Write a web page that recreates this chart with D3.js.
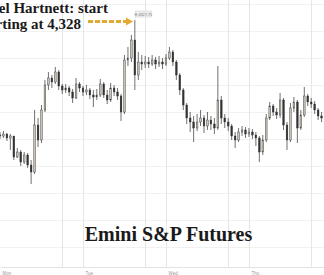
<!DOCTYPE html>
<html>
<head>
<meta charset="utf-8">
<script src="https://cdn.jsdelivr.net/npm/d3@7"></script>
<style>
  body { margin: 0; background: #fff; }
  svg { display: block; }
</style>
</head>
<body>
<script>
// hourly candles, Mon 00:00 onward
var first_open = 4213;
var closes = [4212,4214,4210,4212,4191,4196,4186,4193,4183,4176,
              4223,4208,4238,4263,4270,4266,4276,4262,4258,4260,
              4256,4250,4264,4260,4256,4258,4253,4251,4253,4264,
              4253,4248,4260,4256,4252,4236,4288,4290,4308,4273,
              4286,4284,4286,4284,4288,4284,4286,4284,4290,4296,
              4286,4273,4258,4243,4230,4226,4220,4226,4230,4222,
              4228,4224,4220,4248,4230,4226,4222,4212,4208,4216,
              4218,4214,4216,4213,4210,4196,4208,4230,4242,4236,
              4233,4248,4223,4208,4240,4246,4220,4233,4252,4246,
              4244,4238,4232,4230];
var highs = [4216,4217,4215,4214,4212,4200,4198,4196,4195,4188,
             4238,4230,4243,4268,4276,4273,4281,4278,4264,4264,
             4262,4259,4270,4266,4262,4263,4260,4258,4259,4269,
             4266,4258,4265,4263,4260,4254,4293,4301,4313,4328,
             4296,4293,4292,4291,4293,4291,4292,4290,4294,4301,
             4298,4288,4275,4260,4245,4236,4232,4234,4238,4233,
             4236,4232,4230,4282,4252,4234,4230,4224,4216,4220,
             4222,4221,4220,4219,4216,4212,4213,4234,4246,4244,
             4240,4255,4250,4226,4245,4251,4248,4238,4261,4254,
             4250,4247,4240,4236];
var lows = [4209,4210,4207,4198,4188,4190,4182,4184,4180,4164,
            4174,4201,4205,4236,4258,4260,4264,4258,4254,4255,
            4252,4245,4249,4256,4252,4253,4249,4241,4248,4251,
            4250,4244,4246,4252,4248,4227,4234,4282,4286,4258,
            4268,4278,4280,4280,4282,4279,4281,4279,4282,4288,
            4282,4268,4253,4238,4224,4216,4206,4217,4222,4215,
            4218,4218,4214,4218,4224,4220,4217,4208,4200,4206,
            4212,4210,4211,4209,4202,4186,4193,4206,4228,4232,
            4229,4230,4218,4198,4206,4236,4205,4218,4231,4242,
            4240,4234,4228,4226];
var days = ["Mon", "Tue", "Wed", "Thu"];
var grid_prices = [4344, 4317, 4290, 4263, 4236, 4209, 4182, 4155, 4128, 4101];
var peak_label = "H 4327.75";
var note_1 = "Michael Hartnett: start";
var note_2 = "shorting at 4,328";
var title = "Emini S&P Futures";

var width = 324, height = 275;
var t0 = new Date(2022, 1, 14, 0, 0);
var hour = 3600 * 1000;

var data = closes.map(function(c, i) {
  return {
    t: new Date(t0.getTime() + i * hour),
    o: i === 0 ? first_open : closes[i - 1],
    h: highs[i], l: lows[i], c: c
  };
});

var x = d3.scaleTime()
    .domain([t0, new Date(t0.getTime() + 93.7 * hour)])
    .range([0, width]);
var y = d3.scaleLinear().domain([4073, 4348]).range([height, 0]);

var svg = d3.select("body").append("svg")
    .attr("width", width)
    .attr("height", height);

// grid
svg.append("g").selectAll("line")
  .data(grid_prices)
  .enter().append("line")
    .attr("x1", 0).attr("x2", width)
    .attr("y1", function(d) { return Math.round(y(d)) + 0.5; })
    .attr("y2", function(d) { return Math.round(y(d)) + 0.5; })
    .attr("stroke", "#f1f1f1");

var vticks = [];
days.forEach(function(d, i) {
  vticks.push(new Date(t0.getTime() + i * 24 * hour));
  vticks.push(new Date(t0.getTime() + (i * 24 + 18) * hour));
});
svg.append("g").selectAll("line")
  .data(vticks.filter(function(d) { return x(d) > 1; }))
  .enter().append("line")
    .attr("x1", function(d) { return Math.round(x(d)) + 0.5; })
    .attr("x2", function(d) { return Math.round(x(d)) + 0.5; })
    .attr("y1", 0).attr("y2", 267)
    .attr("stroke", "#e6e6e6");

// bottom axis
var axis = svg.append("g")
    .attr("transform", "translate(0,267)")
    .call(d3.axisBottom(x)
      .tickValues(days.map(function(d, i) { return new Date(t0.getTime() + i * 24 * hour); }))
      .tickSize(0)
      .tickFormat(function(d, i) { return days[i]; }));
axis.select(".domain").attr("stroke", "#e3e3e3");
axis.selectAll("text")
    .attr("text-anchor", "start")
    .attr("dx", 2)
    .attr("dy", 5)
    .attr("fill", "#999")
    .style("font-family", "Liberation Sans")
    .style("font-size", "4.5px");

// candles
var bw = 1.7;
var candles = svg.append("g").selectAll("g")
  .data(data)
  .enter().append("g");
candles.append("line")
    .attr("x1", function(d) { return x(d.t); })
    .attr("x2", function(d) { return x(d.t); })
    .attr("y1", function(d) { return y(d.h); })
    .attr("y2", function(d) { return y(d.l); })
    .attr("stroke", "#333")
    .attr("stroke-width", 0.7);
candles.append("rect")
    .attr("x", function(d) { return x(d.t) - bw / 2; })
    .attr("width", bw)
    .attr("y", function(d) { return y(Math.max(d.o, d.c)); })
    .attr("height", function(d) { return Math.max(0.8, Math.abs(y(d.o) - y(d.c))); })
    .attr("fill", function(d) { return d.c >= d.o ? "#c9c1b4" : "#333"; })
    .attr("stroke", "#333")
    .attr("stroke-width", 0.4);

// peak label
var peak = data[39];
svg.append("rect")
    .attr("x", x(peak.t) + 0.5).attr("y", 11)
    .attr("width", 16).attr("height", 6)
    .attr("fill", "#eeeeee").attr("stroke", "#cfcfcf").attr("stroke-width", 0.5);
svg.append("text")
    .attr("x", x(peak.t) + 8.5).attr("y", 15.6)
    .attr("text-anchor", "middle")
    .style("font-family", "Liberation Sans")
    .style("font-size", "3.8px")
    .attr("fill", "#777")
    .text(peak_label);

// annotation
var note = svg.append("g")
    .style("font-family", "Liberation Serif")
    .style("font-weight", "bold")
    .style("font-size", "15px")
    .attr("fill", "#1a1a1a");
note.append("text").attr("x", 108).attr("y", 13).attr("text-anchor", "end").text(note_1);
note.append("text").attr("x", 81).attr("y", 29).attr("text-anchor", "end").text(note_2);

svg.append("line")
    .attr("x1", 88).attr("x2", 127)
    .attr("y1", 21.5).attr("y2", 21.5)
    .attr("stroke", "#e2a934")
    .attr("stroke-width", 3)
    .attr("stroke-dasharray", "5,2");
svg.append("path")
    .attr("d", "M126,17.5 L133,21.5 L126,25.5 Z")
    .attr("fill", "#e2a934");

// title
svg.append("text")
    .attr("x", 168.5).attr("y", 241)
    .attr("text-anchor", "middle")
    .style("font-family", "Liberation Serif")
    .style("font-weight", "bold")
    .style("font-size", "20px")
    .attr("fill", "#1a1a1a")
    .text(title);
</script>
</body>
</html>
